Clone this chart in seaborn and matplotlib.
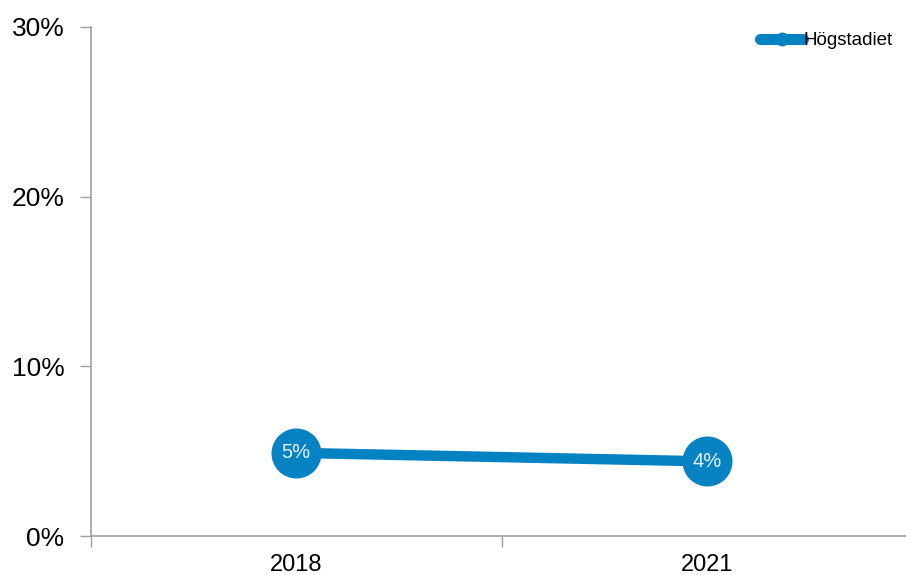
import numpy as np
import pandas as pd
import matplotlib
matplotlib.use('Agg')
import matplotlib.pyplot as plt
import seaborn as sns

years = ['2018', '2021']
values = [0.049, 0.044]
labels = ['5%', '4%']
series = 'Högstadiet'

df = pd.DataFrame({'year': years, 'value': values, 'serie': series})

sns.set_style('white')
plt.rcParams['font.family'] = ['Liberation Sans', 'DejaVu Sans']

blue = '#0582C2'
grey = '#A0A0A0'

fig = plt.figure(figsize=(9.06, 5.75), dpi=100)
ax = fig.add_axes([91 / 906, 1 - 536 / 575, 821 / 906, 509 / 575])

sns.lineplot(data=df, x='year', y='value', hue='serie', palette=[blue],
             marker='o', markersize=36, linewidth=7.5, markeredgewidth=0,
             sort=False, ax=ax)

for i, (v, t) in enumerate(zip(values, labels)):
    ax.text(i, v, t, color='#E8F2FA', fontsize=14.5, ha='center', va='center')

ax.set_xlim(-0.5, 1.5)
ax.set_ylim(0, 0.30)
ax.set_yticks([0, 0.1, 0.2, 0.3])
ax.set_yticklabels(['0%', '10%', '20%', '30%'], fontsize=19, color='black')
ax.set_xticks([0, 1])
ax.set_xticklabels(years, fontsize=17, color='black')
ax.set_xticks([-0.5, 0.5, 1.5], minor=True)
ax.tick_params(axis='x', which='major', length=0, pad=13)
ax.tick_params(axis='x', which='minor', length=8, width=1, color=grey, direction='out', bottom=True)
ax.tick_params(axis='y', length=8, width=1, color=grey, direction='out', left=True, pad=11)
ax.set_xlabel('')
ax.set_ylabel('')
for s in ['top', 'right']:
    ax.spines[s].set_visible(False)
for s in ['left', 'bottom']:
    ax.spines[s].set_color(grey)
    ax.spines[s].set_linewidth(1.2)

leg = ax.legend(loc='upper right', bbox_to_anchor=(0.99, 1.012), frameon=False,
                fontsize=13.5, handlelength=2.3, handletextpad=0.0, borderaxespad=0.2)
for h in leg.get_lines():
    h.set_markersize(10)
    h.set_linewidth(8)
for t in leg.get_texts():
    t.set_color('black')

fig.text(0.955, 1.015, 'g', fontsize=22, ha='center', va='baseline', color='#222222')

fig.savefig('out.png', dpi=100)
